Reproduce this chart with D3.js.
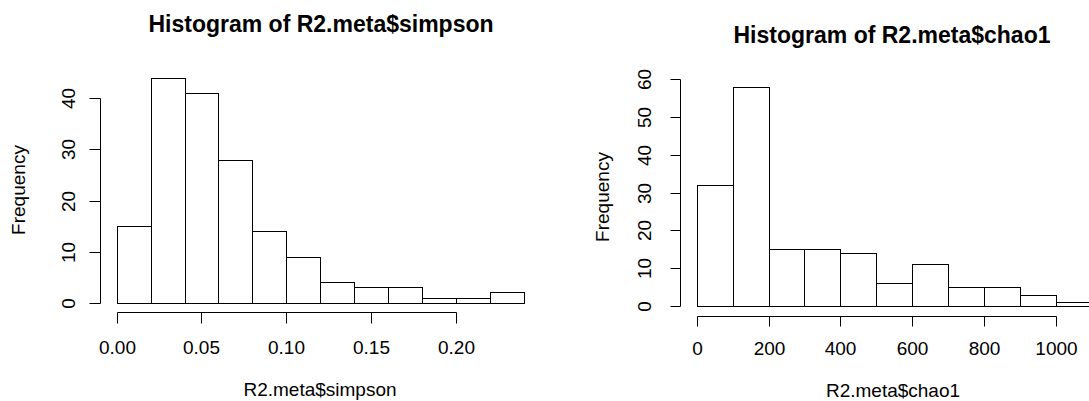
<!DOCTYPE html>
<html><head><meta charset="utf-8">
<script src="https://cdn.jsdelivr.net/npm/d3@7"></script>
<style>
html,body{margin:0;padding:0;background:#fff;}
svg{display:block;}
text{font-family:"Liberation Sans",Arial,Helvetica,sans-serif;fill:#000;}
</style></head>
<body>
<svg id="chart" width="1089" height="401"></svg>
<script>
// ---- data ----
const simpsonBreaks = [0,0.02,0.04,0.06,0.08,0.10,0.12,0.14,0.16,0.18,0.20,0.22,0.24];
const simpsonCounts = [15,44,41,28,14,9,4,3,3,1,1,2];
const simpsonXTicks = [0,0.05,0.10,0.15,0.20];
const simpsonYTicks = [0,10,20,30,40];
const chaoBreaks = [0,100,200,300,400,500,600,700,800,900,1000,1100];
const chaoCounts = [32,58,15,15,14,6,11,5,5,3,1];
const chaoXTicks = [0,200,400,600,800,1000];
const chaoYTicks = [0,10,20,30,40,50,60];

const svg = d3.select("#chart");

function hist(cfg){
  const g = svg.append("g");
  const x = d3.scaleLinear().domain(cfg.xDom).range(cfg.xRange);
  const y = d3.scaleLinear().domain(cfg.yDom).range(cfg.yRange);
  const bins = cfg.counts.map((c,i)=>({x0:cfg.breaks[i],x1:cfg.breaks[i+1],c}));
  g.selectAll("rect.bar").data(bins).enter().append("rect")
    .attr("class","bar")
    .attr("x",d=>Math.round(x(d.x0))+0.5)
    .attr("y",d=>Math.round(y(d.c))+0.5)
    .attr("width",d=>Math.round(x(d.x1))-Math.round(x(d.x0)))
    .attr("height",d=>Math.round(y(0))-Math.round(y(d.c)))
    .attr("fill","#fff").attr("stroke","#000").attr("stroke-width",1);

  // x axis
  const xa = d3.axisBottom(x).tickValues(cfg.xTicks).tickFormat(cfg.xFmt)
    .tickSizeOuter(0).tickSizeInner(cfg.tick).tickPadding(18);
  const gx = g.append("g").attr("transform",`translate(0.5,${Math.round(cfg.xAxisY)+0.5})`).call(xa);
  gx.select(".domain").attr("d",`M${Math.round(x(cfg.xTicks[0]))},0H${Math.round(x(cfg.xTicks[cfg.xTicks.length-1]))}`);
  gx.selectAll(".tick").attr("transform",d=>`translate(${Math.round(x(d))},0)`);
  gx.selectAll("path,line").attr("stroke","#000");
  gx.selectAll("text").attr("font-size",19).attr("font-family",null).attr("fill","#000")
    .attr("dy",null).attr("y",cfg.xLabBase-cfg.xAxisY);
  gx.attr("font-family",null).attr("font-size",null);

  // y axis
  const ya = d3.axisLeft(y).tickValues(cfg.yTicks).tickSizeOuter(0).tickSizeInner(cfg.tick).tickPadding(0);
  const gy = g.append("g").attr("transform",`translate(${Math.round(cfg.yAxisX)+0.5},0.5)`).call(ya);
  gy.select(".domain").attr("d",`M0,${Math.round(y(cfg.yTicks[0]))}V${Math.round(y(cfg.yTicks[cfg.yTicks.length-1]))}`);
  gy.selectAll(".tick").attr("transform",d=>`translate(0,${Math.round(y(d))})`);
  gy.selectAll("path,line").attr("stroke","#000");
  gy.selectAll("text").attr("font-size",19).attr("fill","#000")
    .attr("x",null).attr("dy",null).attr("text-anchor","middle")
    .attr("transform",`translate(${-cfg.yLabOff},0) rotate(-90)`);
  gy.attr("font-family",null).attr("font-size",null);

  // titles
  g.append("text").attr("x",cfg.titleX).attr("y",cfg.titleY).attr("text-anchor","middle")
    .attr("font-size",23).attr("font-weight","bold").text(cfg.title);
  g.append("text").attr("x",cfg.xLabX).attr("y",cfg.xLabY).attr("text-anchor","middle")
    .attr("font-size",19).text(cfg.xLabel);
  g.append("text").attr("transform",`translate(${cfg.yLabX},${cfg.yLabY}) rotate(-90)`)
    .attr("text-anchor","middle").attr("font-size",19).text("Frequency");
}

hist({
  breaks:simpsonBreaks, counts:simpsonCounts,
  xDom:[0,0.24], xRange:[116.7,523.5], yDom:[0,40], yRange:[302.7,98.3],
  xTicks:simpsonXTicks, xFmt:d3.format(".2f"), yTicks:simpsonYTicks,
  xAxisY:312, tick:11, xLabBase:353, yAxisX:100, yLabOff:26,
  title:"Histogram of R2.meta$simpson", titleX:321, titleY:32,
  xLabel:"R2.meta$simpson", xLabX:320, xLabY:396,
  yLabX:25, yLabY:190
});
hist({
  breaks:chaoBreaks, counts:chaoCounts,
  xDom:[0,1000], xRange:[696.7,1055.7], yDom:[0,60], yRange:[306,79.3],
  xTicks:chaoXTicks, xFmt:d3.format("d"), yTicks:chaoYTicks,
  xAxisY:316, tick:10, xLabBase:354, yAxisX:680, yLabOff:30,
  title:"Histogram of R2.meta$chao1", titleX:892, titleY:42.5,
  xLabel:"R2.meta$chao1", xLabX:893, xLabY:397,
  yLabX:609, yLabY:197
});
</script>
</body></html>
